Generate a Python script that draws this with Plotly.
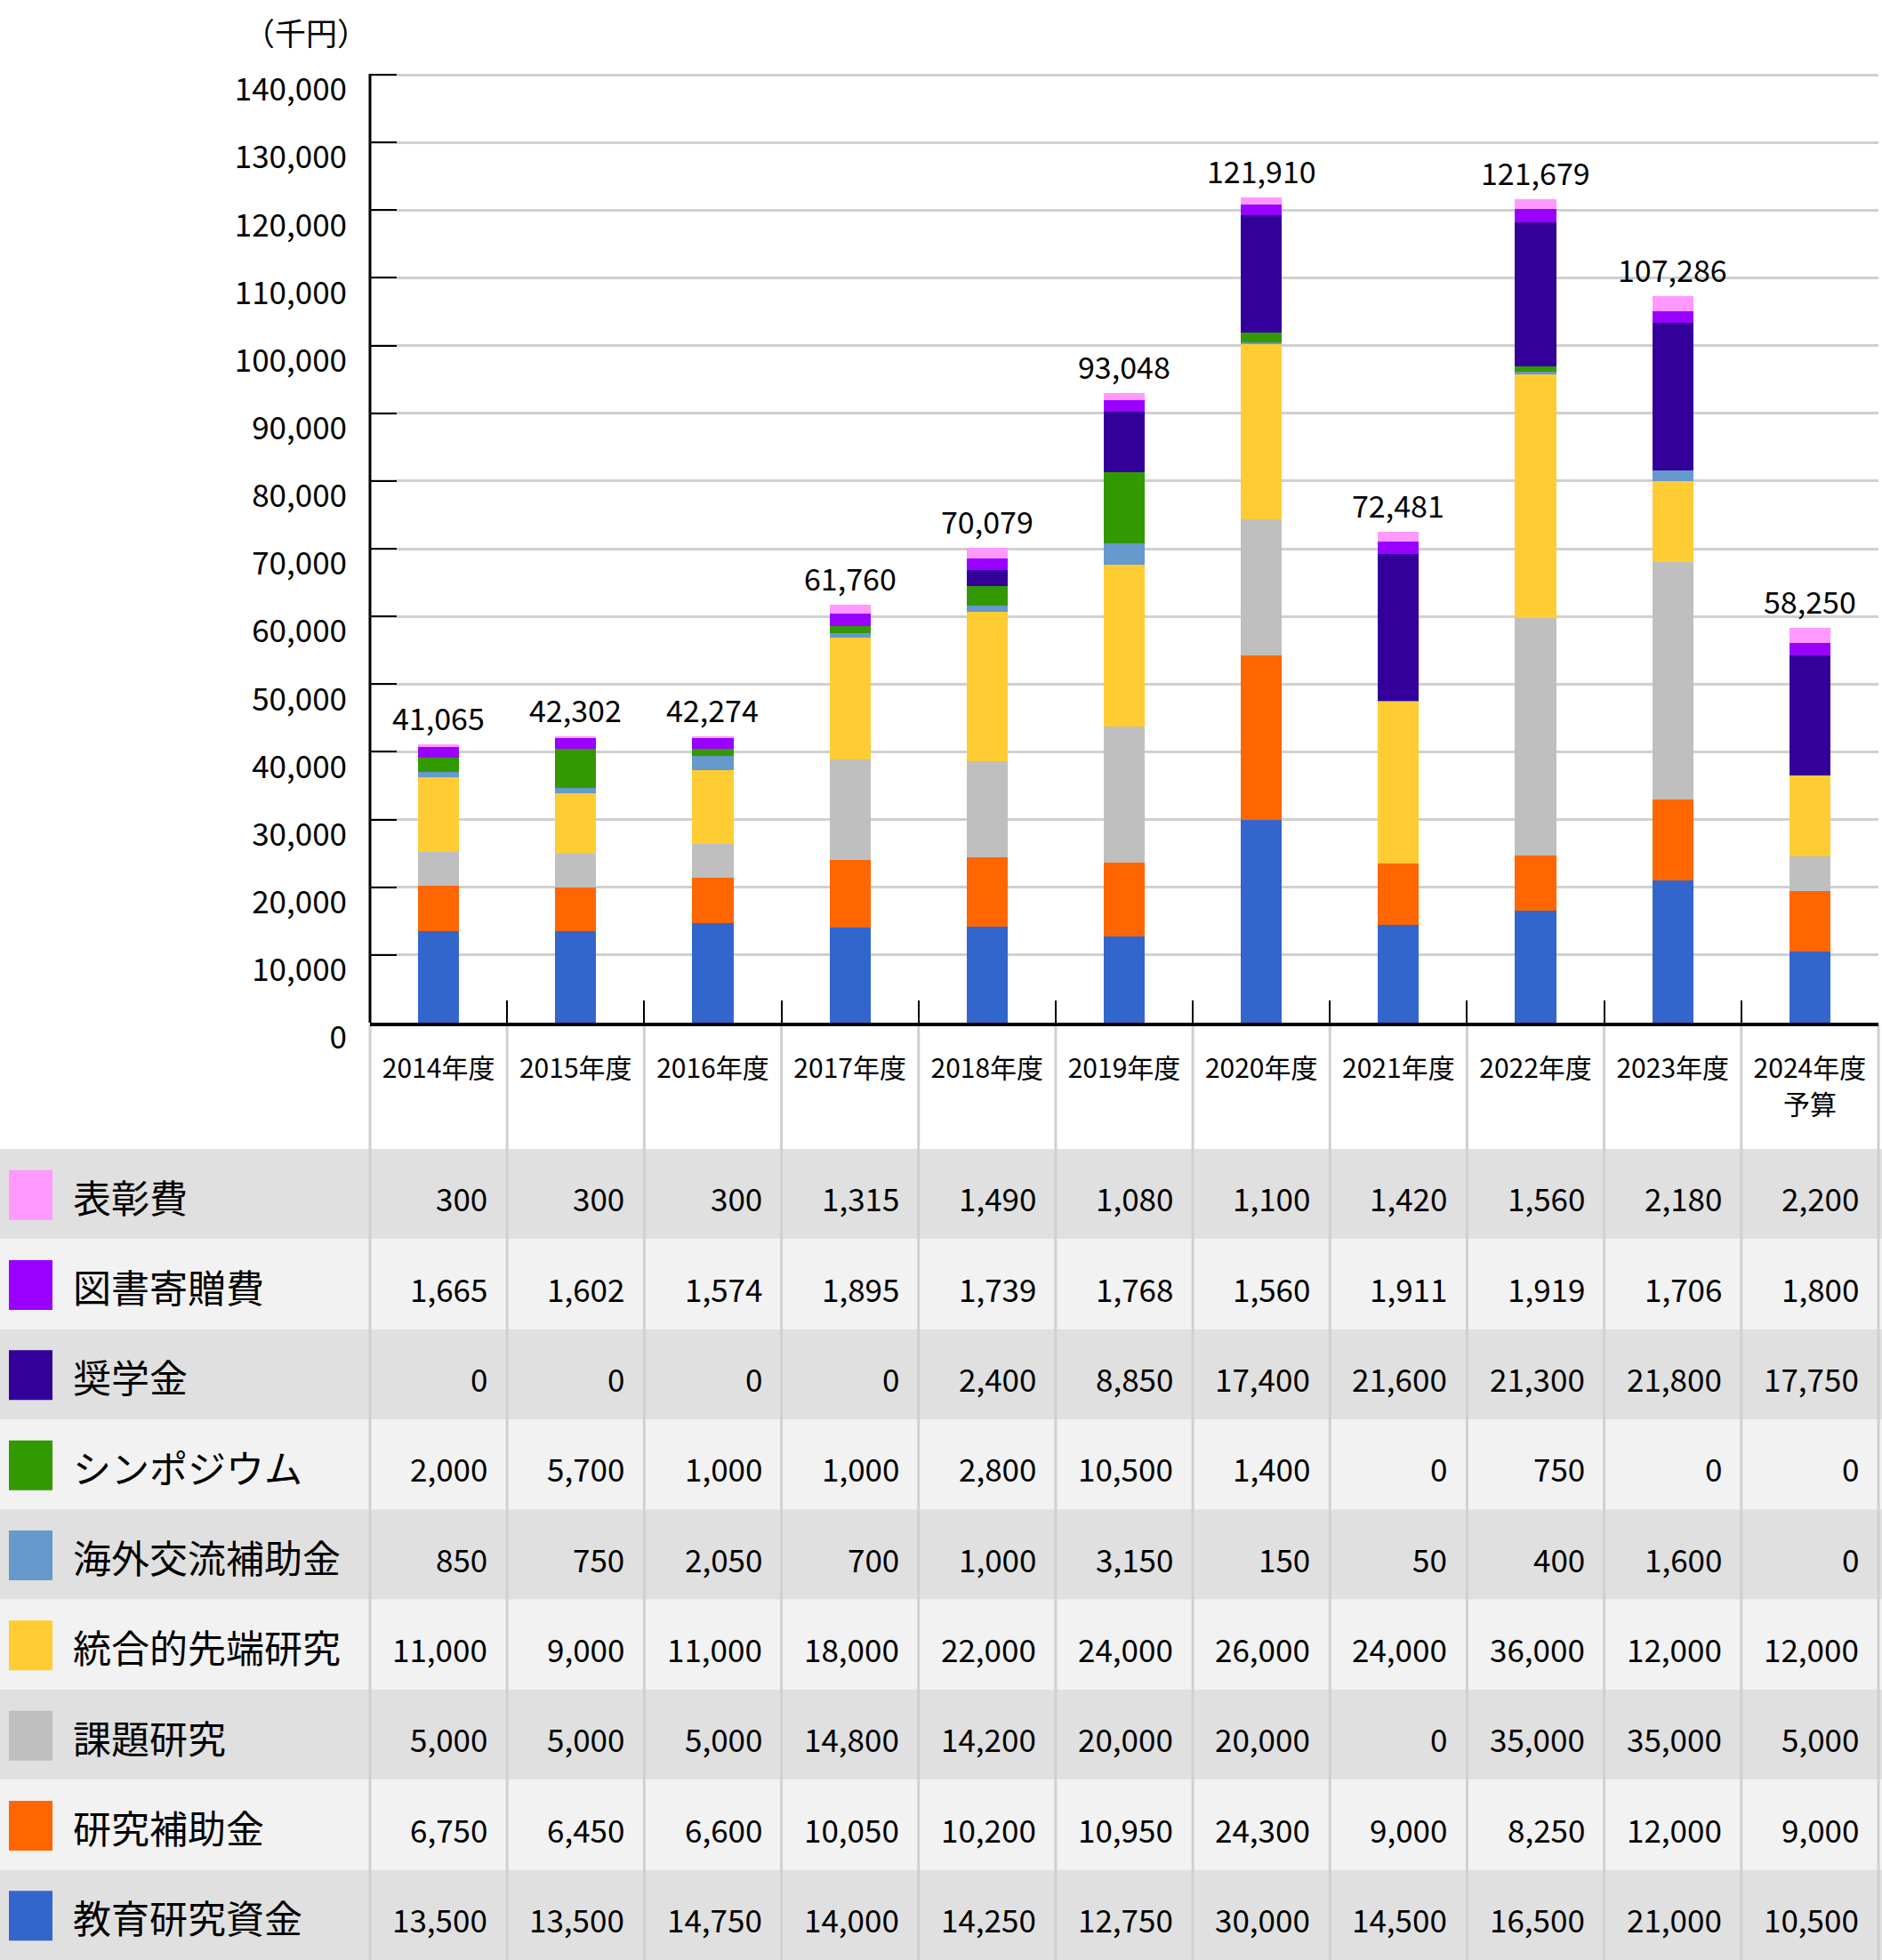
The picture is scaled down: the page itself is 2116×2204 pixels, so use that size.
import plotly.graph_objects as go

years = ["2014年度", "2015年度", "2016年度", "2017年度", "2018年度", "2019年度",
         "2020年度", "2021年度", "2022年度", "2023年度", "2024年度予算"]
tick_labels = ["2014年度", "2015年度", "2016年度", "2017年度", "2018年度", "2019年度",
               "2020年度", "2021年度", "2022年度", "2023年度", "2024年度"]
budget_note = "予算"

# series, bottom of stack first
edu_fund = [13500, 13500, 14750, 14000, 14250, 12750, 30000, 14500, 16500, 21000, 10500]
research_grant = [6750, 6450, 6600, 10050, 10200, 10950, 24300, 9000, 8250, 12000, 9000]
topic_research = [5000, 5000, 5000, 14800, 14200, 20000, 20000, 0, 35000, 35000, 5000]
integrated = [11000, 9000, 11000, 18000, 22000, 24000, 26000, 24000, 36000, 12000, 12000]
overseas = [850, 750, 2050, 700, 1000, 3150, 150, 50, 400, 1600, 0]
symposium = [2000, 5700, 1000, 1000, 2800, 10500, 1400, 0, 750, 0, 0]
scholarship = [0, 0, 0, 0, 2400, 8850, 17400, 21600, 21300, 21800, 17750]
books = [1665, 1602, 1574, 1895, 1739, 1768, 1560, 1911, 1919, 1706, 1800]
awards = [300, 300, 300, 1315, 1490, 1080, 1100, 1420, 1560, 2180, 2200]

series_names = ["教育研究資金", "研究補助金", "課題研究", "統合的先端研究", "海外交流補助金",
                "シンポジウム", "奨学金", "図書寄贈費", "表彰費"]
series_values = [edu_fund, research_grant, topic_research, integrated, overseas,
                 symposium, scholarship, books, awards]
series_colors = ["#3366cc", "#ff6600", "#bfbfbf", "#ffcc33", "#6699cc",
                 "#339900", "#330099", "#9900ff", "#ff99ff"]

y_ticks = list(range(0, 140001, 10000))

FONT = "Noto Sans CJK JP"
W, H = 2116, 2204
ML, MR = 416, 4
AX_Y = 1150      # pixel y of the x axis
TOP_TICK_Y = 84  # pixel y of the 140,000 gridline
MT = 80          # plot area top (a little above the top gridline so it is drawn)
Y_MAX = y_ticks[-1] * (AX_Y - MT) / (AX_Y - TOP_TICK_Y)
MB = H - AX_Y
PW = W - ML - MR
PH = AX_Y - MT
TABLE_TOP = 1292
ROW_H = (H - TABLE_TOP) / len(series_names)


def py(p):
    return (AX_Y - p) / PH


def px(p):
    return (p - ML) / PW


fig = go.Figure()
for name, vals, col in zip(series_names, series_values, series_colors):
    fig.add_trace(go.Bar(x=years, y=vals, name=name, marker=dict(color=col, line=dict(width=0)),
                         showlegend=False))

totals = [sum(v) for v in zip(*series_values)]
annotations = []
for yr, t in zip(years, totals):
    annotations.append(dict(x=yr, y=t, xref="x", yref="y", text=f"{t:,}", showarrow=False,
                            yanchor="bottom", yshift=4, font=dict(family=FONT, size=34, color="black")))

annotations.append(dict(x=px(416), y=py(36), xref="paper", yref="paper", text="（千円）",
                        showarrow=False, xanchor="right", yanchor="middle",
                        font=dict(family=FONT, size=35, color="black")))

# second line of the last category label
annotations.append(dict(x=years[-1], y=py(1240), xref="x", yref="paper", text=budget_note,
                        showarrow=False, xanchor="center", yanchor="middle",
                        font=dict(family=FONT, size=30, color="black")))

shapes = []
n = len(years)
rows = list(range(len(series_names)))[::-1]  # top row = last series
for r, si in enumerate(rows):
    top = TABLE_TOP + r * ROW_H
    bot = top + ROW_H
    mid = (top + bot) / 2
    shapes.append(dict(type="rect", xref="paper", yref="paper", x0=px(0), x1=px(W),
                       y0=py(bot), y1=py(top), fillcolor="#e0e0e0" if r % 2 == 0 else "#f2f2f2",
                       line=dict(width=0), layer="below"))
    shapes.append(dict(type="rect", xref="paper", yref="paper", x0=px(10), x1=px(59),
                       y0=py(mid + 29), y1=py(mid - 27), fillcolor=series_colors[si],
                       line=dict(width=0), layer="above"))
    annotations.append(dict(x=px(80), y=py(mid + 2), xref="paper", yref="paper",
                            text=series_names[si], showarrow=False, xanchor="left", yanchor="middle",
                            font=dict(family=FONT, size=43, color="black")))
    for i, v in enumerate(series_values[si]):
        annotations.append(dict(x=(i + 1) / n, y=py(mid + 4), xref="paper", yref="paper",
                                text=f"{v:,}", showarrow=False, xanchor="right", yanchor="middle",
                                xshift=-20, font=dict(family=FONT, size=35, color="black")))

for k in range(n + 1):
    shapes.append(dict(type="line", xref="paper", yref="paper", x0=k / n, x1=k / n,
                       y0=py(AX_Y + 2), y1=py(H), line=dict(color="#d0d0d0", width=3), layer="below"))

# y axis line only from 0 to the top gridline
shapes.append(dict(type="line", xref="paper", yref="paper", x0=0, x1=0,
                   y0=py(AX_Y), y1=py(TOP_TICK_Y - 1), line=dict(color="black", width=3), layer="above"))

fig.update_layout(
    width=W, height=H,
    margin=dict(l=ML, r=MR, t=MT, b=MB, pad=0, autoexpand=False),
    barmode="stack", bargap=0.7,
    plot_bgcolor="white", paper_bgcolor="white",
    font=dict(family=FONT, color="black"),
    annotations=annotations, shapes=shapes,
    xaxis=dict(type="category", showline=True, linecolor="black", linewidth=4,
               tickmode="array", tickvals=years, ticktext=tick_labels,
               ticks="inside", tickson="boundaries", ticklen=25, tickwidth=2, tickcolor="black",
               showgrid=False, tickfont=dict(family=FONT, size=30, color="black"),
               ticklabelstandoff=22, fixedrange=True, automargin=False),
    yaxis=dict(range=[0, Y_MAX], tickvals=y_ticks, tickformat=",", showline=False,
               ticks="inside", ticklen=30, tickwidth=2,
               tickcolor="black", showgrid=True, gridcolor="#d0d0d0", gridwidth=3,
               zeroline=False, tickfont=dict(family=FONT, size=35, color="black"),
               ticklabelstandoff=25, ticklabelshift=17, automargin=False, fixedrange=True),
)

fig.write_html("out.html", config={"displayModeBar": False},
               post_script="document.body.style.margin='0px';")
